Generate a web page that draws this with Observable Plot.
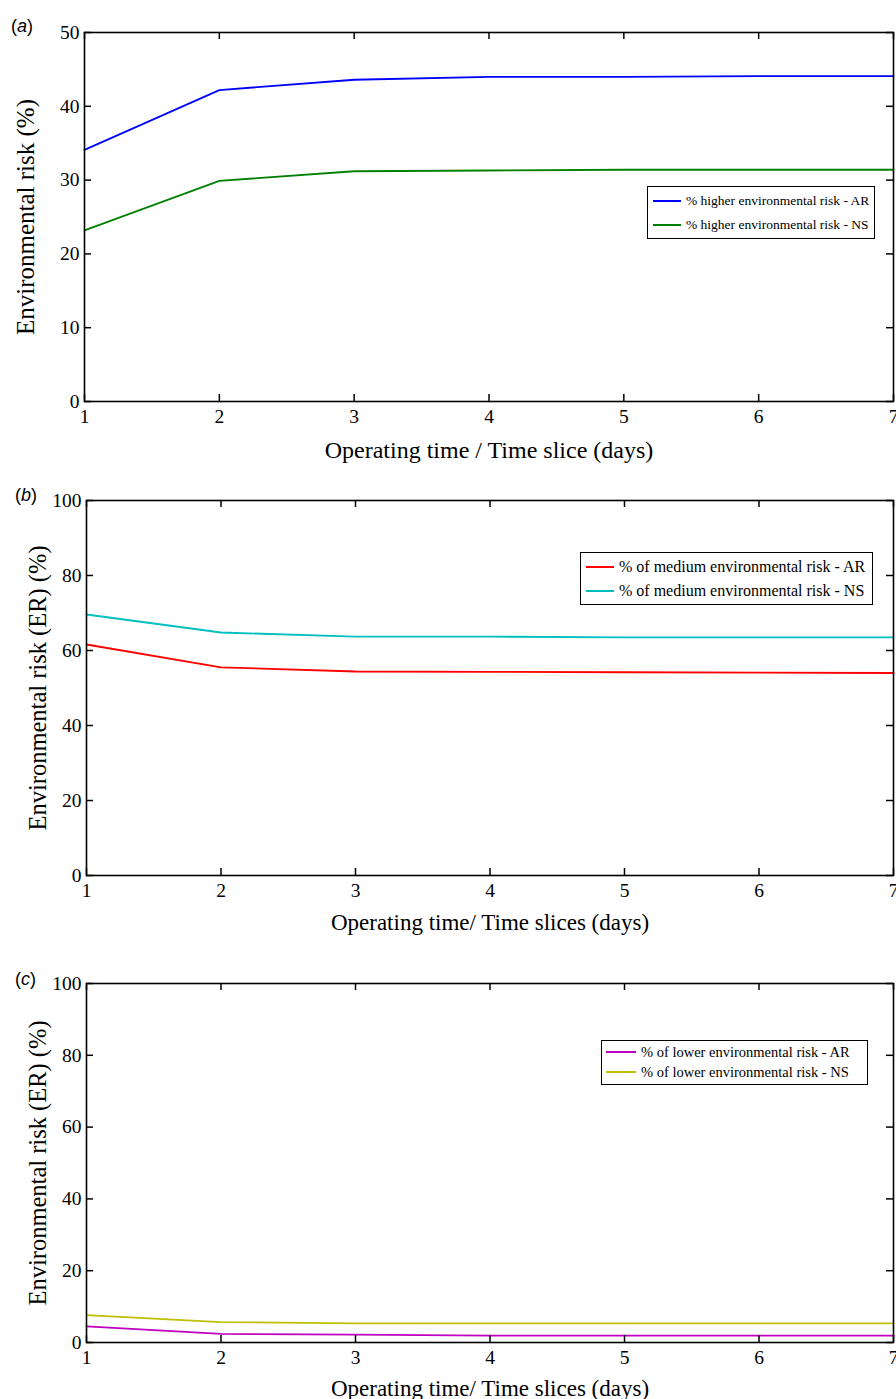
<!DOCTYPE html>
<html>
<head>
<meta charset="utf-8">
<script src="https://cdn.jsdelivr.net/npm/d3@7"></script>
<script src="https://cdn.jsdelivr.net/npm/@observablehq/plot@0.6"></script>
<style>
  html, body { margin: 0; padding: 0; background: #fff; }
  #root { position: relative; width: 896px; height: 1399px; overflow: hidden; }
  .panel { position: absolute; left: 0; }
  .plabel { position: absolute; font-family: "Liberation Sans", Arial, sans-serif; font-size: 18px; color: #000; line-height: 1; }
  .legend { position: absolute; border: 1.5px solid #000; background: #fff; font-family: "Liberation Serif", "Times New Roman", serif; color: #000; box-sizing: border-box; }
  .legend .row { display: flex; align-items: center; white-space: nowrap; }
  .legend .sw { display: inline-block; height: 2px; margin-right: 5px; flex: none; }
</style>
</head>
<body>
<div id="root"></div>
<script>
// ---- data ----
const days = [1, 2, 3, 4, 5, 6, 7];
const xTicks = [1, 2, 3, 4, 5, 6, 7];

const highNames = ["% higher environmental risk - AR", "% higher environmental risk - NS"];
const highColors = ["#0000ff", "#008000"];
const highAR = [34.1, 42.2, 43.6, 44.0, 44.0, 44.1, 44.1];
const highNS = [23.2, 29.9, 31.2, 31.3, 31.4, 31.4, 31.4];
const yTicksA = [0, 10, 20, 30, 40, 50];

const medNames = ["% of medium environmental risk - AR", "% of medium environmental risk - NS"];
const medColors = ["#ff0000", "#00bfbf"];
const medAR = [61.6, 55.5, 54.4, 54.3, 54.2, 54.1, 54.0];
const medNS = [69.6, 64.8, 63.7, 63.7, 63.5, 63.5, 63.5];
const yTicksB = [0, 20, 40, 60, 80, 100];

const lowNames = ["% of lower environmental risk - AR", "% of lower environmental risk - NS"];
const lowColors = ["#bf00bf", "#bfbf00"];
const lowAR = [4.5, 2.4, 2.2, 1.9, 1.9, 1.9, 1.9];
const lowNS = [7.6, 5.7, 5.3, 5.3, 5.3, 5.3, 5.3];
const yTicksC = [0, 20, 40, 60, 80, 100];

const root = document.getElementById("root");

function panel(cfg) {
  const W = 896;
  const innerH = cfg.height - cfg.mt - cfg.mb;
  const innerW = W - cfg.ml - cfg.mr;
  const data = cfg.names.flatMap((n, k) => days.map((d, i) => ({day: d, value: cfg.values[k][i], name: n})));
  const chart = Plot.plot({
    width: W,
    height: cfg.height,
    marginTop: cfg.mt,
    marginBottom: cfg.mb,
    marginLeft: cfg.ml,
    marginRight: cfg.mr,
    x: {domain: [1, 7]},
    y: {domain: cfg.yDomain},
    color: {domain: cfg.names, range: cfg.colors},
    style: {fontFamily: "'Liberation Serif', 'Times New Roman', serif", fontSize: "19px", color: "#000", background: "#fff"},
    marks: [
      Plot.line(data, {x: "day", y: "value", z: "name", stroke: "name", strokeWidth: 1.8}),
      Plot.frame({stroke: "#000", strokeWidth: 1.6}),
      Plot.tickX(xTicks, {x: d => d, insetTop: innerH - 7, stroke: "#000", strokeWidth: 1.5}),
      Plot.tickX(xTicks, {x: d => d, insetBottom: innerH - 7, stroke: "#000", strokeWidth: 1.5}),
      Plot.tickY(cfg.yTicks, {y: d => d, insetRight: innerW - 7, stroke: "#000", strokeWidth: 1.5}),
      Plot.tickY(cfg.yTicks, {y: d => d, insetLeft: innerW - 7, stroke: "#000", strokeWidth: 1.5}),
      Plot.axisX(xTicks, {tickSize: 0, tickPadding: 8, fontSize: 19.5, tickFormat: "d", label: null}),
      Plot.axisY(cfg.yTicks, {tickSize: 0, tickPadding: 5, fontSize: 19.5, tickFormat: "d", label: null}),
      Plot.text([cfg.xLabel], {text: d => d, frameAnchor: "bottom", lineAnchor: "middle", textAnchor: "middle", dy: cfg.xLabelDy, fontSize: cfg.xFont}),
      Plot.text([cfg.yLabel], {text: d => d, frameAnchor: "left", lineAnchor: "middle", textAnchor: "middle", rotate: -90, dx: cfg.yLabelDx, fontSize: cfg.yFont})
    ]
  });
  const wrap = document.createElement("div");
  wrap.className = "panel";
  wrap.style.top = cfg.top + "px";
  wrap.appendChild(chart);
  root.appendChild(wrap);

  const lab = document.createElement("div");
  lab.className = "plabel";
  lab.style.left = cfg.plabel[0] + "px";
  lab.style.top = cfg.plabel[1] + "px";
  lab.innerHTML = "(<i>" + cfg.letter + "</i>)";
  root.appendChild(lab);

  const leg = document.createElement("div");
  leg.className = "legend";
  const L = cfg.legend;
  leg.style.left = L.left + "px";
  leg.style.top = L.top + "px";
  leg.style.width = L.width + "px";
  leg.style.height = L.height + "px";
  leg.style.fontSize = L.fontSize + "px";
  leg.style.padding = L.pad;
  cfg.names.forEach((n, k) => {
    const row = document.createElement("div");
    row.className = "row";
    row.style.height = L.rowH + "px";
    const sw = document.createElement("span");
    sw.className = "sw";
    sw.style.width = L.sw + "px";
    sw.style.background = cfg.colors[k];
    const t = document.createElement("span");
    t.textContent = n;
    row.appendChild(sw);
    row.appendChild(t);
    leg.appendChild(row);
  });
  root.appendChild(leg);
}

panel({
  top: 0, height: 470, mt: 32, mb: 69, ml: 84, mr: 3,
  yDomain: [0, 50], yTicks: yTicksA,
  names: highNames, colors: highColors, values: [highAR, highNS],
  xLabel: "Operating time / Time slice (days)", yLabel: "Environmental risk (%)",
  xLabelDy: 49, yLabelDx: -59, xFont: 24, yFont: 25, letter: "a", plabel: [11, 17],
  legend: {left: 647, top: 186, width: 228, height: 53, fontSize: 13.5, rowH: 24, sw: 28, pad: "2px 5px"}
});

panel({
  top: 470, height: 480, mt: 30, mb: 75, ml: 86, mr: 3,
  yDomain: [0, 100], yTicks: yTicksB,
  names: medNames, colors: medColors, values: [medAR, medNS],
  xLabel: "Operating time/ Time slices (days)", yLabel: "Environmental risk (ER) (%)",
  xLabelDy: 47, yLabelDx: -48, xFont: 23, yFont: 24.5, letter: "b", plabel: [15, 486],
  legend: {left: 580, top: 552, width: 293, height: 53, fontSize: 16, rowH: 24, sw: 28, pad: "2px 5px"}
});

panel({
  top: 950, height: 449, mt: 33, mb: 57, ml: 86, mr: 3,
  yDomain: [0, 100], yTicks: yTicksC,
  names: lowNames, colors: lowColors, values: [lowAR, lowNS],
  xLabel: "Operating time/ Time slices (days)", yLabel: "Environmental risk (ER) (%)",
  xLabelDy: 46, yLabelDx: -48, xFont: 23, yFont: 24.5, letter: "c", plabel: [15, 970],
  legend: {left: 601, top: 1040, width: 267, height: 45, fontSize: 14.5, rowH: 20, sw: 30, pad: "1px 4px"}
});
</script>
</body>
</html>
